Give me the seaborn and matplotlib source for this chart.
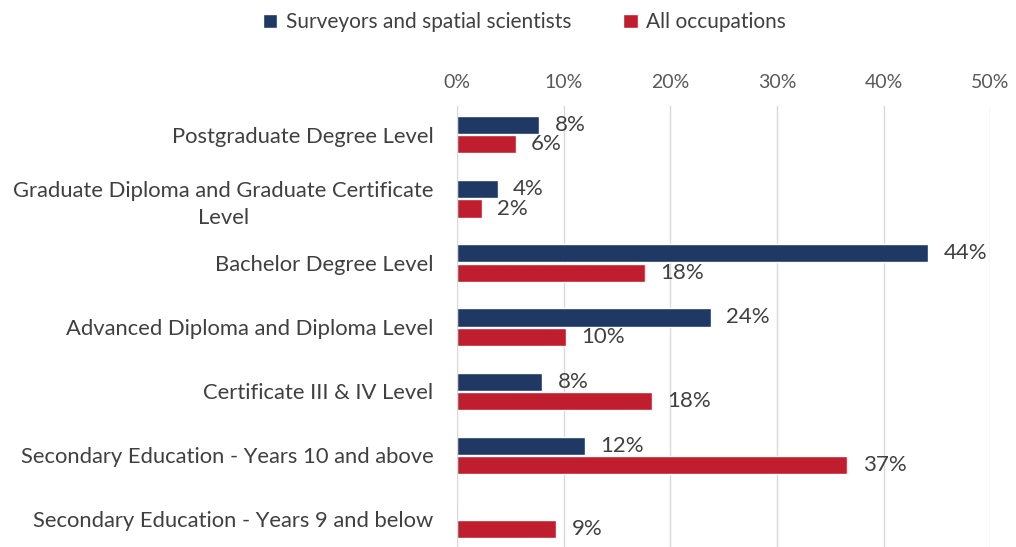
import pandas as pd
import matplotlib.pyplot as plt
import seaborn as sns
from matplotlib.ticker import FuncFormatter

categorias = [
    "Postgraduate Degree Level",
    "Graduate Diploma and Graduate Certificate\nLevel",
    "Bachelor Degree Level",
    "Advanced Diploma and Diploma Level",
    "Certificate III & IV Level",
    "Secondary Education - Years 10 and above",
    "Secondary Education - Years 9 and below",
]
series = ["Surveyors and spatial scientists", "All occupations"]
surveyors = [7.7, 3.8, 44.2, 23.8, 8.0, 12.0, 0.0]
todas = [5.5, 2.3, 17.6, 10.2, 18.3, 36.6, 9.3]
colores = ["#1F3864", "#BE1E2D"]

df = pd.DataFrame({
    "categoria": categorias * 2,
    "serie": [series[0]] * len(categorias) + [series[1]] * len(categorias),
    "valor": surveyors + todas,
})

sns.set_style("white")
plt.rcParams["font.family"] = ["Lato", "DejaVu Sans"]

fig = plt.figure(figsize=(10.16, 5.47), dpi=100)
ax = fig.add_axes([0.45, -0.014, 0.5245, 0.8203])

sns.barplot(data=df, y="categoria", x="valor", hue="serie", order=categorias,
            hue_order=series, palette=colores, saturation=1, orient="h",
            width=0.6, gap=0.06, ax=ax, legend=True)

# Etiquetas de datos
for cont in ax.containers:
    for barra in cont:
        v = barra.get_width()
        if v <= 0:
            continue
        ax.annotate(f"{v:.0f}%", (v, barra.get_y() + barra.get_height() / 2),
                    xytext=(11, 0), textcoords="offset points", va="center",
                    ha="left", fontsize=16, color="#404040")

ax.set_xlim(0, 50)
ax.set_ylim(6.55, -0.45)
ax.set_xticks(range(0, 51, 10))
ax.xaxis.set_major_formatter(FuncFormatter(lambda x, p: f"{x:.0f}%"))
ax.xaxis.tick_top()
ax.tick_params(axis="x", length=0, pad=11, labelsize=14, labelcolor="#595959")
ax.tick_params(axis="y", length=0, pad=17, labelsize=15.8, labelcolor="#404040")
for lbl in ax.get_yticklabels():
    lbl.set_multialignment("center")
    lbl.set_linespacing(1.45)
ax.set_xlabel("")
ax.set_ylabel("")
ax.grid(axis="x", color="#D9D9D9", linewidth=1)
ax.set_axisbelow(True)
for s in ["top", "right", "bottom"]:
    ax.spines[s].set_visible(False)
ax.spines["left"].set_color("#D9D9D9")

ax.legend(loc="upper center", bbox_to_anchor=(0.516, 1.012), bbox_transform=fig.transFigure,
          ncol=2, frameon=False, fontsize=15, handlelength=0.7, handleheight=0.7,
          handletextpad=0.4, columnspacing=2.5, labelcolor="#404040")

fig.savefig("out.png", dpi=100)
